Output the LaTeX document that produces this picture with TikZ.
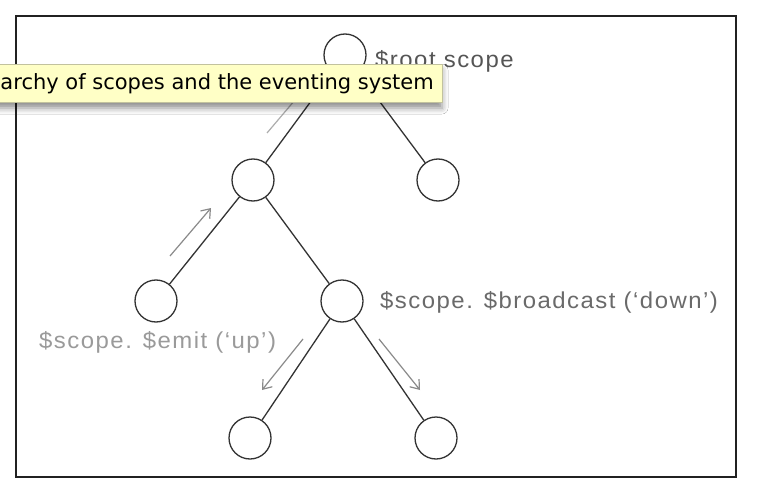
\documentclass[tikz,border=0pt]{standalone}
\usepackage{fontspec}
\newfontfamily\diagfont[FakeStretch=1.04,LetterSpace=6.5]{Liberation Sans}
\newfontfamily\tipfont{DejaVu Sans}
\usetikzlibrary{positioning, calc, arrows.meta, shadows.blur}
\definecolor{edgegray}{HTML}{333333}
\definecolor{arrowgray}{HTML}{8A8A8A}
\definecolor{rootgray}{HTML}{555555}
\definecolor{downgray}{HTML}{6A6A6A}
\definecolor{upgray}{HTML}{9A9A9A}
\definecolor{tipyellow}{HTML}{FFFFC6}
\definecolor{tipborder}{HTML}{C2C29E}

\begin{document}
\begin{tikzpicture}
    [x=1pt, y=-1pt,
    scopenode/.style={circle, draw=edgegray, line width=1.3pt, minimum size=42pt, inner sep=0pt},
    treeedge/.style={draw=edgegray, line width=1.3pt},
    eventarrow/.style={draw=arrowgray, line width=1.2pt, -{Straight Barb[length=8pt,width=12pt]}},
    labeltext/.style={inner sep=0pt, anchor=base west, font=\diagfont\fontsize{23}{27}\selectfont},]

    \useasboundingbox (0,0) rectangle (760,492);
    \clip (0,0) rectangle (760,492);
    \fill[white] (0,0) rectangle (760,492);
    \draw[draw=black!87, line width=1.5pt] (16,16) rectangle (736,477);

    %Nodes
    \node[scopenode](root) at (345,55){};
    \node[scopenode](a) at (253,180){};
    \node[scopenode](b) at (438,180){};
    \node[scopenode](aa) at (156,301){};
    \node[scopenode](ab) at (342,301){};
    \node[scopenode](aba) at (250,438){};
    \node[scopenode](abb) at (436,438){};

    %Labels
    \node[labeltext, text=rootgray](rootlabel) at (375,68){\$root scope};
    \node[labeltext, text=downgray](downlabel) at (380,308){\$scope. \$broadcast (‘down’)};
    \node[labeltext, text=upgray](uplabel) at (39,348){\$scope. \$emit (‘up’)};

    %Lines
    \draw[treeedge](root)--(a);
    \draw[treeedge](root)--(b);
    \draw[treeedge](a)--(aa);
    \draw[treeedge](a)--(ab);
    \draw[treeedge](ab)--(aba);
    \draw[treeedge](ab)--(abb);

    %Event arrows
    \coordinate(up1) at (170,256);
    \coordinate(up2) at (211,208);
    \coordinate(top1) at (267,133);
    \coordinate(top2) at (306,87);
    \coordinate(dl1) at (303,339);
    \coordinate(dl2) at (262,390);
    \coordinate(dr1) at (379,339);
    \coordinate(dr2) at (420,390);
    \draw[eventarrow](up1)--(up2);
    \draw[eventarrow, draw=arrowgray!70](top1)--(top2);
    \draw[eventarrow](dl1)--(dl2);
    \draw[eventarrow](dr1)--(dr2);

    %Tooltip
    \filldraw[fill=tipyellow, draw=tipborder, line width=0.8pt,
        blur shadow={shadow xshift=0pt, shadow yshift=-6pt, shadow blur radius=6pt, shadow opacity=45}]
        (-5,64) rectangle (442,102);
    \node[inner sep=0pt, anchor=base east, font=\tipfont\fontsize{21}{25}\selectfont](tiptext) at (434,90){archy of scopes and the eventing system};
\end{tikzpicture}
\end{document}
